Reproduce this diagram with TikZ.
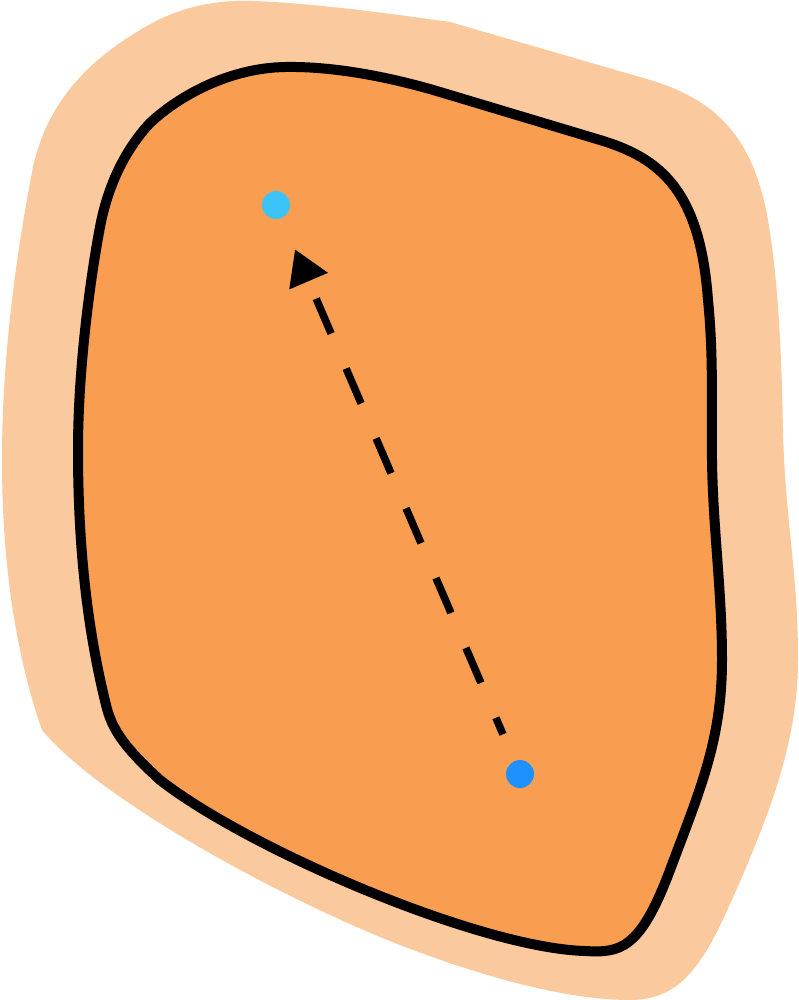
\documentclass[tikz,border=0pt]{standalone}
\usetikzlibrary{arrows.meta}
\definecolor{outerc}{HTML}{FBC99E}
\definecolor{innerc}{HTML}{F99E51}
\definecolor{cyandot}{HTML}{3CC3F8}
\definecolor{bluedot}{HTML}{1E90FF}
\begin{document}
\begin{tikzpicture}[x=1bp,y=-1bp,
  dot/.style={circle,inner sep=0pt,minimum size=28bp},
  outline/.style={fill=innerc,draw=black,line width=10bp,line join=round},
  link/.style={line width=7.5bp,dash pattern=on 38bp off 38bp,dash phase=20bp,
    -{Triangle[length=34.6bp,width=40bp]}}]
\useasboundingbox (0,0) rectangle (799,1000);
% outer halo
\fill[outerc] (250,1) .. controls (300,2) and (380,12) .. (450,22)
  -- (640,77) .. controls (710,96) and (752,130) .. (768,220)
  .. controls (780,290) and (782,380) .. (783,430)
  .. controls (785,520) and (798,570) .. (798,660)
  .. controls (798,740) and (770,810) .. (745,870)
  .. controls (710,950) and (690,1000) .. (630,1000)
  .. controls (560,1000) and (470,972) .. (400,945)
  .. controls (280,898) and (100,800) .. (42,730)
  -- (36,712)
  .. controls (20,660) and (2,580) .. (2,460)
  .. controls (2,360) and (15,260) .. (33,167)
  .. controls (48,100) and (90,60) .. (140,30)
  .. controls (180,5) and (220,0) .. (250,1) -- cycle;
% inner region
\path[outline] (285,67) .. controls (340,66) and (400,80) .. (440,92)
  -- (600,140) .. controls (660,158) and (700,190) .. (708,300)
  .. controls (714,360) and (711,410) .. (712,460)
  .. controls (713,530) and (722,590) .. (722,660)
  .. controls (722,740) and (700,790) .. (670,870)
  .. controls (640,950) and (620,953) .. (585,951)
  .. controls (480,948) and (250,850) .. (160,780)
  .. controls (125,748) and (112,730) .. (106,705)
  .. controls (90,640) and (78,560) .. (78,450)
  .. controls (78,370) and (90,280) .. (100,227)
  .. controls (108,185) and (125,150) .. (150,123)
  .. controls (180,95) and (230,68) .. (285,67) -- cycle;
\node[dot, fill=cyandot] (a) at (276,205) {};
\node[dot, fill=bluedot] (b) at (520,774) {};
\draw[link, shorten <=29bp, shorten >=34bp] (b) -- (a);
\end{tikzpicture}
\end{document}
